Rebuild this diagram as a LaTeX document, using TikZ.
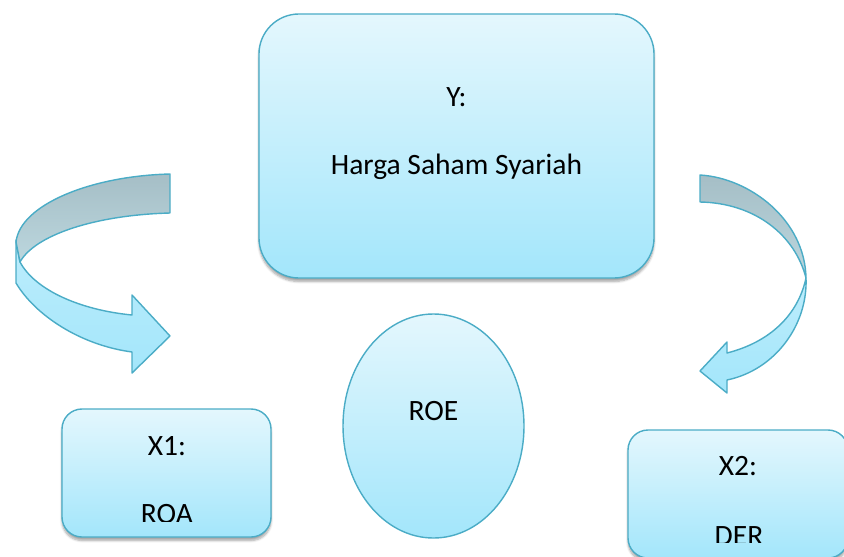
\documentclass[tikz,border=0pt]{standalone}
\usepackage{fontspec}
\setmainfont{Carlito}
\usetikzlibrary{shapes.geometric,shadows.blur}
\definecolor{skytop}{HTML}{E4F7FD}
\definecolor{skybot}{HTML}{A3E6FB}
\definecolor{rim}{HTML}{4BACC6}
\definecolor{foldtop}{HTML}{A5BEC6}
\definecolor{foldbot}{HTML}{BCD7DE}

\begin{document}
\begin{tikzpicture}[x=0.03cm, y=-0.03cm,
  font=\fontsize{25.2}{30}\selectfont,
  box/.style={draw=rim, line width=1.2pt, rounded corners=#1,
              top color=skytop, bottom color=skybot,
              blur shadow={shadow xshift=0pt, shadow yshift=-3pt,
                           shadow blur steps=6, shadow opacity=35}},
  oval/.style={ellipse, draw=rim, line width=1.2pt,
               top color=skytop, bottom color=skybot},
  lbl/.style={anchor=base, inner sep=0pt},
  band/.style={draw=rim, line width=1.2pt, line join=round,
               top color=skytop!40!skybot, bottom color=skybot},
  fold/.style={draw=rim, line width=1.2pt, line join=round,
               top color=foldtop, bottom color=foldbot}
]
  \useasboundingbox (0,0) rectangle (844,556);
  \clip (0,0) rectangle (844,556);

  % boxes
  \node[box=1.2cm, minimum width=11.85cm, minimum height=7.92cm] (hss) at (456.5,146) {};
  \node[oval, minimum width=5.43cm, minimum height=6.72cm] (roe) at (433.5,426) {};
  \node[box=0.6cm, minimum width=6.27cm, minimum height=3.84cm] (xroa) at (166.5,473) {};
  \node[box=0.6cm, minimum width=6.6cm, minimum height=3.84cm] (xder) at (738,494) {};

  % texts
  \node[lbl] (ylbl) at (hss.center |- 0,106) {Y:};
  \node[lbl] (yname) at (hss.center |- 0,174) {Harga Saham Syariah};
  \node[lbl] (roelbl) at (roe.center |- 0,420) {ROE};
  \node[lbl] (x1lbl) at (167,455) {X1:};
  \begin{scope}
    \clip (60,480) rectangle (280,521.5);
    \node[lbl] (roalbl) at (167,523) {ROA};
  \end{scope}
  \node[lbl] (x2lbl) at (738,475) {X2:};
  \begin{scope}
    \clip (620,500) rectangle (844,542);
    \node[lbl] (derlbl) at (739,545) {DER};
  \end{scope}

  % curved arrow to X1
  \path[band] (16,240) -- (16,283) .. controls (35,315) and (80,345) .. (132,352)
    -- (132,373) -- (170,336) -- (132,295) -- (132,315)
    .. controls (80,310) and (35,290) .. (20,262) -- cycle;
  \path[fold] (170,174) -- (170,213) .. controls (95,215) and (35,235) .. (20,262)
    -- (16,242) .. controls (20,205) and (90,176) .. (170,174) -- cycle;

  % curved arrow to X2
  \path[band] (806,278) .. controls (808,325) and (775,370) .. (727,380)
    -- (727,393) -- (700,371) -- (727,342) -- (727,353)
    .. controls (770,342) and (798,315) .. (806,278) -- cycle;
  \path[fold] (700,175) .. controls (750,178) and (805,220) .. (806,278)
    .. controls (795,235) and (755,203) .. (700,202) -- cycle;
\end{tikzpicture}
\end{document}
